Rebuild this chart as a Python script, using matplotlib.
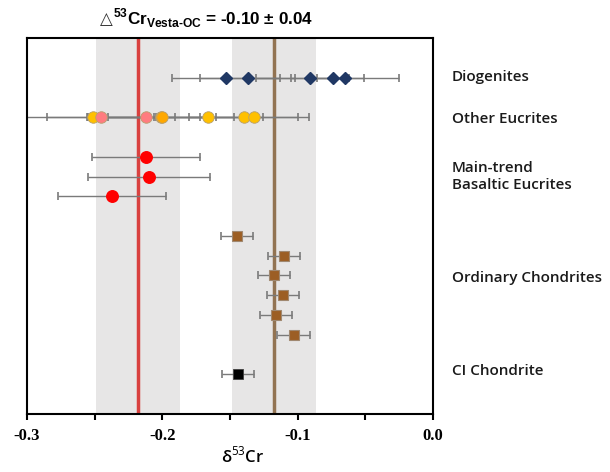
import matplotlib
matplotlib.use("Agg")
import matplotlib.pyplot as plt
import matplotlib.transforms as mtransforms

plt.rcParams['axes.unicode_minus'] = False
plt.rcParams['mathtext.fontset'] = 'custom'
plt.rcParams['mathtext.rm'] = 'Open Sans'
plt.rcParams['mathtext.bf'] = 'Liberation Sans:bold'

# ---------------- data ----------------
dio_x = [-0.153, -0.137, -0.091, -0.074, -0.065]
dio_err = [0.040, 0.035, 0.040, 0.012, 0.040]
dio_row = 2

euc_x = [-0.251, -0.245, -0.212, -0.201, -0.200, -0.166, -0.140, -0.132]
euc_err = [0.060, 0.040, 0.044, 0.054, 0.040, 0.040, 0.040, 0.040]
euc_col = ['#FFC000', '#FF7C80', '#FF7C80', '#FFA800', '#FFA800', '#FFC000', '#FFC000', '#FFC000']
euc_row = 4

mt_x = [-0.212, -0.210, -0.237]
mt_err = [0.040, 0.045, 0.040]
mt_rows = [6, 7, 8]

oc_x = [-0.145, -0.110, -0.1175, -0.111, -0.116, -0.103]
oc_err = [0.012, 0.012, 0.012, 0.012, 0.012, 0.012]
oc_rows = [10, 11, 12, 13, 14, 15]

ci_x = [-0.144]
ci_err = [0.012]
ci_rows = [17]

vesta_mean, vesta_unc = -0.218, 0.031
oc_mean, oc_unc = -0.1175, 0.031

group_labels = ['Diogenites', 'Other Eucrites', 'Main-trend\nBasaltic Eucrites',
                'Ordinary Chondrites', 'CI Chondrite']
group_label_rows = [1.95, 4.1, 7.0, 12.15, 16.85]

xticks = [-0.3, -0.2, -0.1, 0.0]
xtick_labels = ['-0.3', '-0.2', '-0.1', '0.0']
xminor = [-0.25, -0.15, -0.05]

# ---------------- figure ----------------
fig = plt.figure(figsize=(6.1, 4.72), dpi=100)
ax = fig.add_axes([0.0443, 0.1229, 0.6656, 0.7966])

ax.set_xlim(-0.3, 0.0)
ax.set_ylim(19.0, 0.0)

# bands and lines
ax.axvspan(vesta_mean - vesta_unc, vesta_mean + vesta_unc, color='#E7E6E6', zorder=0, lw=0)
ax.axvspan(oc_mean - oc_unc, oc_mean + oc_unc, color='#E7E6E6', zorder=0, lw=0)
ax.axvline(vesta_mean, color='#D9413F', lw=2.5, zorder=1)
ax.axvline(oc_mean, color='#927352', lw=2.5, zorder=1)

ekw = dict(ecolor='#7A7A7A', elinewidth=1.0, capsize=2.6, capthick=1.2, zorder=2)

# Diogenites
for x, e in zip(dio_x, dio_err):
    ax.errorbar([x], [dio_row], xerr=[e], fmt='none', **ekw)
ax.plot(dio_x, [dio_row] * len(dio_x), 'D', ms=6.6, color='#203864',
        mec='#203864', ls='none', zorder=3)

# Other eucrites
for x, e in zip(euc_x, euc_err):
    ax.errorbar([x], [euc_row], xerr=[e], fmt='none', **ekw)
for x, c in zip(euc_x, euc_col):
    ax.plot([x], [euc_row], 'o', ms=8.3, color=c, mec='#B8A070', mew=0.6, zorder=3)

# Main-trend basaltic eucrites
for x, e, r in zip(mt_x, mt_err, mt_rows):
    ax.errorbar([x], [r], xerr=[e], fmt='none', **ekw)
ax.plot(mt_x, mt_rows, 'o', ms=8.3, color='#FF0000', mec='#FF0000', ls='none', zorder=3)

# Ordinary chondrites
for x, e, r in zip(oc_x, oc_err, oc_rows):
    ax.errorbar([x], [r], xerr=[e], fmt='none', **ekw)
ax.plot(oc_x, oc_rows, 's', ms=7.2, color='#9C5E24', mec='#A08870', mew=0.8, ls='none', zorder=3)

# CI chondrite
for x, e, r in zip(ci_x, ci_err, ci_rows):
    ax.errorbar([x], [r], xerr=[e], fmt='none', **ekw)
ax.plot(ci_x, ci_rows, 's', ms=7.2, color='#000000', mec='#404040', mew=0.6, ls='none', zorder=3)

# group labels on the right
trans = mtransforms.blended_transform_factory(ax.transAxes, ax.transData)
for lab, r in zip(group_labels, group_label_rows):
    ax.text(1.046, r, lab, transform=trans, ha='left', va='center',
            fontsize=11, family='Open Sans', fontweight='semibold',
            color='#1a1a1a', linespacing=1.35, clip_on=False)

# axes styling
for s in ax.spines.values():
    s.set_linewidth(1.5)
    s.set_color('black')
ax.set_yticks([])
ax.set_xticks(xticks)
ax.set_xticks(xminor, minor=True)
ax.set_xticklabels(xtick_labels, family='Liberation Serif', fontweight='bold', fontsize=12)
ax.tick_params(axis='x', which='both', direction='out', length=4, width=1.5, pad=6)

ax.set_xlabel(r'δ$^{53}$Cr', family='Open Sans', fontweight='semibold', fontsize=12, labelpad=5)
ax.xaxis.set_label_coords(0.53, -0.085)

# title
fig.text(100 / 610, 0.959, '△', ha='left', va='center', fontsize=12,
         family='DejaVu Sans', color='#333333')
fig.text(113 / 610, 0.962,
         r'$^{\mathbf{53}}$' + 'Cr' + r'$_{\mathbf{Vesta‐OC}}$' + ' = -0.10 ± 0.04',
         ha='left', va='center', fontsize=12.3, family='Liberation Sans',
         fontweight='bold')

fig.savefig('out.png', dpi=100)
